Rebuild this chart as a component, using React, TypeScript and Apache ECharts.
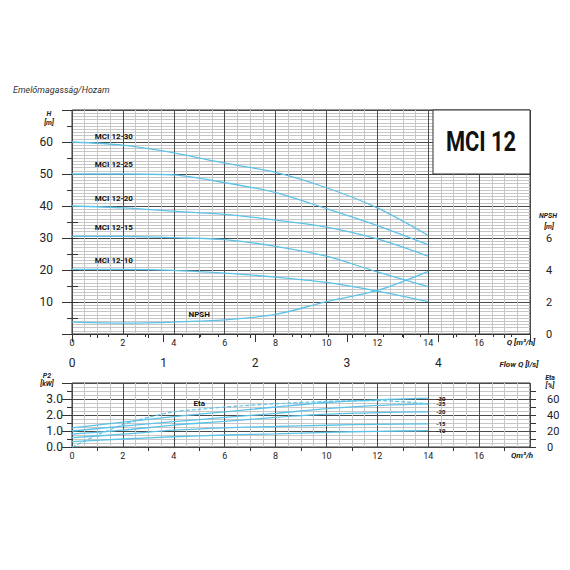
import React, { useEffect, useRef } from 'react';
import * as echarts from 'echarts';

// ---------- data ----------
const flowQ = [0, 2, 4, 6, 8, 10, 12, 14];
const headMCI1230 = [60, 59, 56.6, 53.4, 50.5, 45.7, 39.4, 30.8];
const headMCI1225 = [50, 50, 49.7, 47.3, 44.2, 39.2, 33.9, 27.9];
const headMCI1220 = [40, 39.4, 38.4, 37.4, 35.6, 33.4, 29.7, 24.3];
const headMCI1215 = [30.5, 30.5, 30.1, 29.5, 27.4, 24.3, 19.4, 14.8];
const headMCI1210 = [20.2, 20.2, 19.9, 19.0, 17.8, 16.1, 13.4, 10.1];

const npshQ = [0, 2, 4, 5, 6, 8, 10, 12, 14];
const npshM = [0.74, 0.68, 0.74, 0.8, 0.88, 1.22, 2.02, 2.72, 3.92];

const p2MCI1230 = [1.2, 1.55, 1.9, 2.2, 2.5, 2.78, 2.95, 3.05];
const p2MCI1225 = [1.0, 1.3, 1.58, 1.85, 2.1, 2.4, 2.6, 2.7];
const p2MCI1220 = [0.8, 1.05, 1.37, 1.6, 1.85, 2.05, 2.15, 2.2];
const p2MCI1215 = [0.58, 0.8, 1.05, 1.2, 1.28, 1.36, 1.42, 1.45];
const p2MCI1210 = [0.33, 0.5, 0.64, 0.75, 0.82, 0.92, 0.98, 1.02];

const etaQ = [0, 1, 2, 3, 4, 5, 6, 8, 10, 12, 14];
const etaPct = [0, 15, 28, 37, 44, 47, 50, 54, 57, 58, 54];

const headNames = ['MCI 12-30', 'MCI 12-25', 'MCI 12-20', 'MCI 12-15', 'MCI 12-10'];
const powerNames = ['-30', '-25', '-20', '-15', '-10'];

const qTickLabels = [0, 2, 4, 6, 8, 10, 12, 14, 16];
const qMinorTicks = [1, 3, 5, 7, 9, 11, 13, 15, 17];
const lsTickLabels = [0, 1, 2, 3, 4];
const hTickLabels = [10, 20, 30, 40, 50, 60];
const npshTickLabels = [0, 2, 4, 6];
const npshTicks = [0, 1, 2, 3, 4, 5, 6, 7];
const p2TickLabels = [0, 1, 2, 3];
const etaTickLabels = [0, 20, 40, 60];
const etaTicks = [0, 10, 20, 30, 40, 50, 60, 70];

// ---------- styles ----------
const NARROW = "Roboto, 'Noto Sans', sans-serif";
const CURVE = '#5cc3e8';
const MAJOR = '#4a4a4a';
const MINOR = '#c6c6c6';
const TXT = '#222';

function withLabel(xs: number[], ys: number[], idx: number, text: string, offset: number[], distance: number) {
  return xs.map((x, i) =>
    i === idx
      ? {
          value: [x, ys[i]],
          label: {
            show: true,
            position: 'top',
            distance,
            offset,
            formatter: text,
            fontSize: 8,
            fontWeight: 'bold',
            fontFamily: NARROW,
            color: '#111',
          },
        }
      : { value: [x, ys[i]] }
  );
}

function gridXAxis(gridIndex: number) {
  return {
    type: 'value',
    gridIndex,
    min: 0,
    max: 18,
    interval: 1,
    position: 'bottom',
    axisLine: { show: false },
    axisTick: { show: false },
    axisLabel: { show: false },
    splitLine: { show: true, lineStyle: { color: [MAJOR, MINOR], width: 1 } },
    minorTick: { show: false, splitNumber: 2 },
    minorSplitLine: { show: true, lineStyle: { color: MINOR, width: 1 } },
  };
}

function labelXAxis(gridIndex: number) {
  return {
    type: 'value',
    gridIndex,
    min: 0,
    max: 18,
    interval: 1,
    position: 'bottom',
    axisLine: { show: false },
    axisTick: { show: true, customValues: qMinorTicks, length: 4, lineStyle: { color: '#333' } },
    axisLabel: {
      show: true,
      customValues: qTickLabels,
      fontSize: 9,
      margin: 4,
      color: TXT,
      fontFamily: NARROW,
    },
    splitLine: { show: false },
  };
}

function tickHelperY(gridIndex: number, max: number, interval: number, len: number) {
  return {
    type: 'value',
    gridIndex,
    min: 0,
    max,
    interval,
    position: 'left',
    axisLine: { show: false },
    axisTick: { show: true, length: len, lineStyle: { color: '#333' } },
    axisLabel: { show: false },
    splitLine: { show: false },
  };
}

const hiddenSymbol = {
  symbol: 'circle',
  symbolSize: 0.1,
  showSymbol: true,
  itemStyle: { color: 'transparent', borderWidth: 0 },
};

function powerSeries(name: string, ys: number[]) {
  return {
    type: 'line',
    name,
    xAxisIndex: 3,
    yAxisIndex: 3,
    data: flowQ.map((x, i) => [x, ys[i]]),
    smooth: 0.3,
    symbol: 'none',
    lineStyle: { color: CURVE, width: 1.3 },
    endLabel: {
      show: true,
      formatter: name,
      fontSize: 6,
      fontWeight: 'bold',
      fontFamily: NARROW,
      color: '#111',
      distance: 8,
    },
  };
}

function headSeries(name: string, ys: number[]) {
  return {
    type: 'line',
    name,
    xAxisIndex: 0,
    yAxisIndex: 0,
    data: withLabel(flowQ, ys, 1, name, [-9, 0], 5),
    smooth: 0.3,
    ...hiddenSymbol,
    lineStyle: { color: CURVE, width: 1.3 },
  };
}

function smallText(text: string, x: number, y: number, size = 7, align = 'center') {
  return {
    type: 'text',
    x,
    y,
    z: 100,
    style: {
      text,
      fontSize: size,
      fontStyle: 'italic',
      fontWeight: 'bold',
      fontFamily: NARROW,
      fill: TXT,
      align,
      verticalAlign: 'middle',
    },
  };
}

export default function App() {
  const ref = useRef<HTMLDivElement>(null);

  useEffect(() => {
    document.body.style.margin = '0';
    if (!ref.current) return;
    const chart = echarts.init(ref.current, undefined, { renderer: 'svg' });

    const heads = [headMCI1230, headMCI1225, headMCI1220, headMCI1215, headMCI1210];
    const powers = [p2MCI1230, p2MCI1225, p2MCI1220, p2MCI1215, p2MCI1210];

    const option: any = {
      animation: false,
      backgroundColor: '#fff',
      grid: [
        { left: 72, top: 110, width: 458, height: 224, show: true, borderColor: '#333', borderWidth: 1, backgroundColor: 'transparent' },
        { left: 72, top: 383, width: 458, height: 64, show: true, borderColor: '#333', borderWidth: 1, backgroundColor: 'transparent' },
      ],
      xAxis: [
        gridXAxis(0),
        labelXAxis(0),
        {
          type: 'value',
          gridIndex: 0,
          min: 0,
          max: 5,
          interval: 1,
          position: 'bottom',
          offset: 17,
          axisLine: { show: true, lineStyle: { color: '#333', width: 1 } },
          axisTick: { show: true, length: 8, lineStyle: { color: '#333' } },
          minorTick: { show: true, splitNumber: 5, length: 3, lineStyle: { color: '#333' } },
          axisLabel: { show: true, customValues: lsTickLabels, fontSize: 12, margin: 6, color: TXT, fontFamily: NARROW },
          splitLine: { show: false },
          minorSplitLine: { show: false },
        },
        gridXAxis(1),
        labelXAxis(1),
      ],
      yAxis: [
        {
          type: 'value',
          gridIndex: 0,
          min: 0,
          max: 70,
          interval: 5,
          position: 'left',
          axisLine: { show: false },
          axisTick: { show: true, length: 5, lineStyle: { color: '#333' } },
          axisLabel: { show: true, customValues: hTickLabels, fontSize: 12, margin: 19, color: TXT, fontFamily: NARROW },
          splitLine: { show: true, lineStyle: { color: [MAJOR, MINOR], width: 1 } },
          minorTick: { show: false, splitNumber: 5 },
          minorSplitLine: { show: true, lineStyle: { color: MINOR, width: 1 } },
        },
        tickHelperY(0, 70, 10, 10),
        {
          type: 'value',
          gridIndex: 0,
          min: 0,
          max: 14,
          position: 'right',
          axisLine: { show: false },
          axisTick: { show: true, customValues: npshTicks, length: 6, lineStyle: { color: '#333' } },
          axisLabel: { show: true, customValues: npshTickLabels, fontSize: 11, margin: 16, color: TXT, fontFamily: NARROW },
          splitLine: { show: false },
        },
        {
          type: 'value',
          gridIndex: 1,
          min: 0,
          max: 4,
          interval: 0.5,
          position: 'left',
          axisLine: { show: false },
          axisTick: { show: true, length: 5, lineStyle: { color: '#333' } },
          axisLabel: {
            show: true,
            customValues: p2TickLabels,
            fontSize: 12,
            margin: 9,
            color: TXT,
            fontFamily: NARROW,
            formatter: (v: number) => v.toFixed(1),
          },
          splitLine: { show: true, lineStyle: { color: [MAJOR, MINOR], width: 1 } },
          minorTick: { show: false, splitNumber: 2 },
          minorSplitLine: { show: true, lineStyle: { color: MINOR, width: 1 } },
        },
        tickHelperY(1, 4, 1, 10),
        {
          type: 'value',
          gridIndex: 1,
          min: 0,
          max: 80,
          position: 'right',
          axisLine: { show: false },
          axisTick: { show: true, customValues: etaTicks, length: 6, lineStyle: { color: '#333' } },
          axisLabel: { show: true, customValues: etaTickLabels, fontSize: 11, margin: 17, color: TXT, fontFamily: NARROW },
          splitLine: { show: false },
        },
      ],
      series: [
        ...heads.map((h, i) => headSeries(headNames[i], h)),
        {
          type: 'line',
          name: 'NPSH',
          xAxisIndex: 0,
          yAxisIndex: 2,
          data: withLabel(npshQ, npshM, 3, 'NPSH', [0, 0], 3),
          smooth: 0.3,
          ...hiddenSymbol,
          lineStyle: { color: CURVE, width: 1.3 },
        },
        ...powers.map((p, i) => powerSeries(powerNames[i], p)),
        {
          type: 'line',
          name: 'Eta',
          xAxisIndex: 3,
          yAxisIndex: 5,
          data: withLabel(etaQ, etaPct, 5, 'Eta', [0, 0], 2),
          smooth: 0.3,
          ...hiddenSymbol,
          lineStyle: { color: CURVE, width: 1.2, type: [4, 2] },
        },
      ],
      graphic: [
        {
          type: 'text',
          x: 13,
          y: 90,
          z: 100,
          style: {
            text: 'Emelőmagasság/Hozam',
            fontSize: 9,
            fontStyle: 'italic',
            fontFamily: NARROW,
            fill: '#333',
            align: 'left',
            verticalAlign: 'middle',
          },
        },
        smallText('H', 49, 114),
        smallText('[m]', 49, 123),
        smallText('NPSH', 548, 216),
        smallText('[m]', 549, 227),
        smallText('Q [m³/h]', 521, 342, 8),
        smallText('Flow Q [l/s]', 519, 364, 8),
        smallText('P2', 47, 376),
        smallText('[kW]', 47, 384),
        smallText('Eta', 550, 378),
        smallText('[%]', 550, 386),
        smallText('Qm³/h', 522, 455, 8),
        {
          type: 'rect',
          z: 100,
          shape: { x: 433, y: 110, width: 97, height: 64 },
          style: { fill: '#fff', stroke: '#333', lineWidth: 1 },
        },
        {
          type: 'text',
          x: 481,
          y: 142,
          z: 101,
          scaleX: 0.78,
          style: {
            text: 'MCI 12',
            fontSize: 28,
            fontWeight: 'bold',
            fontFamily: NARROW,
            fill: '#111',
            align: 'center',
            verticalAlign: 'middle',
          },
        },
      ],
    };

    chart.setOption(option);
    return () => chart.dispose();
  }, []);

  return <div ref={ref} style={{ width: 570, height: 570 }} />;
}
